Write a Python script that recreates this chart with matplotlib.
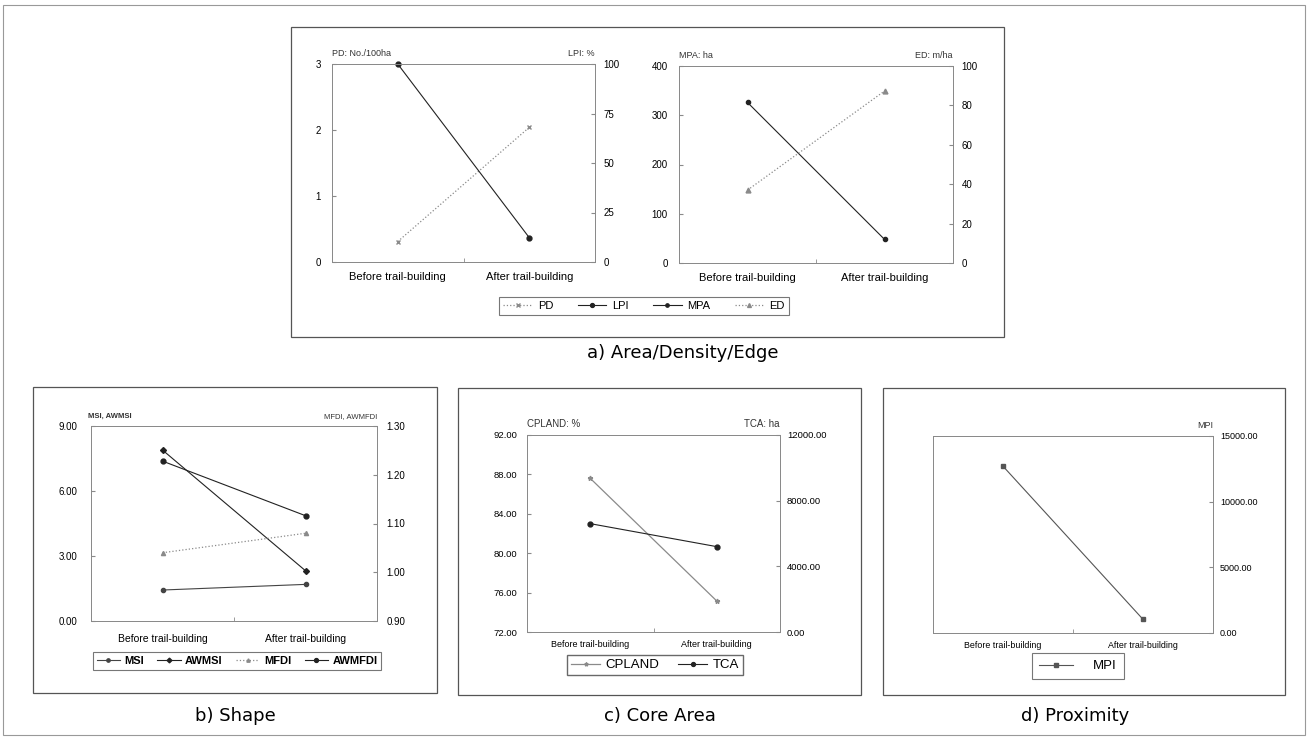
import matplotlib as mpl
mpl.use('Agg')
import matplotlib.pyplot as plt
from matplotlib.patches import Rectangle
from matplotlib.ticker import FormatStrFormatter

W, H = 1309, 738
fig = plt.figure(figsize=(W / 100, H / 100), dpi=100)
plt.rcParams['font.family'] = ['Liberation Sans', 'DejaVu Sans']

categories = ["Before trail-building", "After trail-building"]
x = [0, 1]

# a) area / density / edge
pd_vals = [0.31, 2.04]       # No./100ha
lpi_vals = [100.0, 12.3]     # %
mpa_vals = [326.0, 48.0]     # ha
ed_vals = [37.0, 87.3]       # m/ha

# b) shape
msi_vals = [1.43, 1.69]
awmsi_vals = [7.89, 2.32]
mfdi_vals = [1.040, 1.080]
awmfdi_vals = [1.228, 1.116]

# c) core area
cpland_vals = [87.6, 75.15]  # %
tca_vals = [6600.0, 5200.0]  # ha

# d) proximity
mpi_vals = [12700.0, 1040.0]

GRAY = '#8a8a8a'
DARK = '#222222'


def rect(l, t, r, b):
    return [l / W, 1 - b / H, (r - l) / W, (b - t) / H]


def frame(l, t, r, b, lw=0.9, color='#555555'):
    fig.add_artist(Rectangle((l / W, 1 - b / H), (r - l) / W, (b - t) / H,
                             transform=fig.transFigure, fill=False, lw=lw, ec=color))


def setup(ax, ax2, xfs, yfs, lylim, lticks, rylim, rticks, fmt=None, xpad=6, lpad=7, rpad=6):
    ax.set_xlim(-0.5, 1.5)
    ax.set_xticks(x)
    ax.set_xticklabels(categories, fontsize=xfs)
    ax.set_xticks([0.5], minor=True)
    ax.tick_params(axis='x', which='major', length=0, pad=xpad)
    ax.tick_params(axis='x', which='minor', length=3, direction='in', color=GRAY)
    ax.set_ylim(*lylim)
    ax.set_yticks(lticks)
    ax2.set_ylim(*rylim)
    ax2.set_yticks(rticks)
    ax.tick_params(axis='y', labelsize=yfs, direction='in', length=3, color=GRAY, pad=lpad)
    ax2.tick_params(axis='y', labelsize=yfs, direction='in', length=3, color=GRAY, pad=rpad)
    for a in (ax, ax2):
        for s in a.spines.values():
            s.set_color(GRAY)
            s.set_linewidth(0.7)
        if fmt:
            a.yaxis.set_major_formatter(FormatStrFormatter(fmt))


# outer frame and group frames
frame(3, 5, 1305, 735, lw=0.8, color='#999999')
frame(291, 27, 1004, 337)
frame(33, 387, 437, 693)
frame(458, 388, 861, 695)
frame(883, 388, 1285, 695)

# ---- a) left
ax = fig.add_axes(rect(332, 64, 595, 262))
ax2 = ax.twinx()
setup(ax, ax2, 8, 7, (0, 3), [0, 1, 2, 3], (0, 100), [0, 25, 50, 75, 100], xpad=7, lpad=8, rpad=6)
h_pd, = ax.plot(x, pd_vals, ls=':', color=GRAY, marker='x', ms=3, lw=0.9)
h_lpi, = ax2.plot(x, lpi_vals, ls='-', color=DARK, marker='o', ms=3.5, lw=0.8, clip_on=False)
ax.text(0, 1.03, "PD: No./100ha", transform=ax.transAxes, fontsize=6.5, color='#333333', va='bottom')
ax.text(1, 1.03, "LPI: %", transform=ax.transAxes, fontsize=6.5, color='#333333', va='bottom', ha='right')

# ---- a) right
ax = fig.add_axes(rect(679, 66, 953, 263))
ax2 = ax.twinx()
setup(ax, ax2, 8, 7, (0, 400), [0, 100, 200, 300, 400], (0, 100), [0, 20, 40, 60, 80, 100], xpad=7, lpad=8, rpad=6)
h_mpa, = ax.plot(x, mpa_vals, ls='-', color=DARK, marker='o', ms=3, lw=0.8)
h_ed, = ax2.plot(x, ed_vals, ls=':', color=GRAY, marker='^', ms=3.5, lw=0.9)
ax.text(0, 1.03, "MPA: ha", transform=ax.transAxes, fontsize=6.5, color='#333333', va='bottom')
ax.text(1, 1.03, "ED: m/ha", transform=ax.transAxes, fontsize=6.5, color='#333333', va='bottom', ha='right')

leg = fig.legend([h_pd, h_lpi, h_mpa, h_ed], ["PD", "LPI", "MPA", "ED"], ncol=4,
                 loc='center', bbox_to_anchor=(644 / W, 1 - 306 / H), fontsize=8,
                 fancybox=False, edgecolor='#555555', handlelength=2.6, columnspacing=2.2,
                 borderpad=0.4, handletextpad=0.5, markerscale=0.8)
leg.get_frame().set_linewidth(0.8)
fig.text(683 / W, 1 - 353 / H, "a) Area/Density/Edge", fontsize=13, ha='center', va='center',
         family='DejaVu Sans')

# ---- b) shape
ax = fig.add_axes(rect(91, 426, 377, 621))
ax2 = ax.twinx()
setup(ax, ax2, 7.5, 7, (0, 9), [0, 3, 6, 9], (0.9, 1.3), [0.9, 1.0, 1.1, 1.2, 1.3], fmt='%.2f',
      xpad=9, lpad=10, rpad=7)
h1, = ax.plot(x, msi_vals, ls='-', color='#444444', marker='o', ms=3, lw=0.8)
h2, = ax.plot(x, awmsi_vals, ls='-', color=DARK, marker='D', ms=3, lw=0.8)
h3, = ax2.plot(x, mfdi_vals, ls=':', color=GRAY, marker='^', ms=3, lw=0.9)
h4, = ax2.plot(x, awmfdi_vals, ls='-', color=DARK, marker='o', ms=3.5, lw=0.8)
ax.text(-0.01, 1.03, "MSI, AWMSI", transform=ax.transAxes, fontsize=5.5, fontweight='bold', color='#333333', va='bottom')
ax.text(1, 1.03, "MFDI, AWMFDI", transform=ax.transAxes, fontsize=5.5, color='#333333', va='bottom', ha='right')
leg = fig.legend([h1, h2, h3, h4], ["MSI", "AWMSI", "MFDI", "AWMFDI"], ncol=4,
                 loc='center', bbox_to_anchor=(237 / W, 1 - 661 / H),
                 prop={'size': 8, 'weight': 'bold'}, fancybox=False, edgecolor='#555555',
                 handlelength=2.1, columnspacing=1.2, borderpad=0.35, handletextpad=0.4, markerscale=0.8)
leg.get_frame().set_linewidth(0.8)
fig.text(235 / W, 1 - 716 / H, "b) Shape", fontsize=13, ha='center', va='center', family='DejaVu Sans')

# ---- c) core area
ax = fig.add_axes(rect(527, 435, 780, 632))
ax2 = ax.twinx()
setup(ax, ax2, 6.5, 6.8, (72, 92), [72, 76, 80, 84, 88, 92], (0, 12000), [0, 4000, 8000, 12000], fmt='%.2f',
      xpad=6, lpad=7, rpad=5)
h1, = ax.plot(x, cpland_vals, ls='-', color=GRAY, marker='*', ms=3.5, lw=0.9)
h2, = ax2.plot(x, tca_vals, ls='-', color=DARK, marker='o', ms=3.5, lw=0.8)
ax.text(0, 1.03, "CPLAND: %", transform=ax.transAxes, fontsize=7, color='#333333', va='bottom')
ax.text(1, 1.03, "TCA: ha", transform=ax.transAxes, fontsize=7, color='#333333', va='bottom', ha='right')
leg = fig.legend([h1, h2], ["CPLAND", "TCA"], ncol=2, loc='center',
                 bbox_to_anchor=(655 / W, 1 - 665 / H), fontsize=9.5, fancybox=False,
                 edgecolor='#444444', handlelength=2.2, columnspacing=1.4, borderpad=0.3,
                 handletextpad=0.4, markerscale=0.8)
leg.get_frame().set_linewidth(1.0)
fig.text(660 / W, 1 - 716 / H, "c) Core Area", fontsize=13, ha='center', va='center', family='DejaVu Sans')

# ---- d) proximity
ax = fig.add_axes(rect(933, 436, 1213, 633))
ax2 = ax.twinx()
setup(ax, ax2, 6.4, 6.5, (0, 15000), [], (0, 15000), [0, 5000, 10000, 15000], fmt='%.2f',
      xpad=6, lpad=7, rpad=5)
h1, = ax2.plot(x, mpi_vals, ls='-', color='#555555', marker='s', ms=2.5, lw=0.8)
ax.text(1, 1.03, "MPI", transform=ax.transAxes, fontsize=6.5, color='#333333', va='bottom', ha='right')
leg = fig.legend([h1], ["MPI"], loc='center', bbox_to_anchor=(1078 / W, 1 - 666 / H),
                 fontsize=9.5, fancybox=False, edgecolor='#555555', handlelength=2.6,
                 borderpad=0.55, handletextpad=1.5, borderaxespad=0)
leg.get_frame().set_linewidth(0.8)
fig.text(1075 / W, 1 - 716 / H, "d) Proximity", fontsize=13, ha='center', va='center', family='DejaVu Sans')

plt.savefig("out.png", dpi=100)
